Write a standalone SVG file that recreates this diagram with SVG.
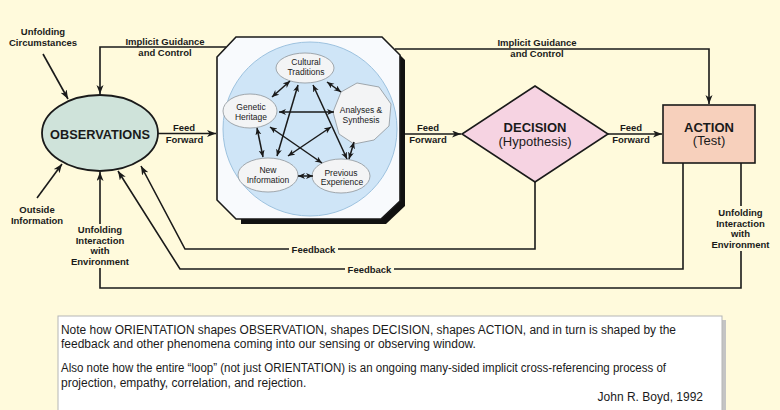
<svg xmlns="http://www.w3.org/2000/svg" width="780" height="410" viewBox="0 0 780 410">
<defs>
<style>
.bg{fill:#FFFADC}
.ln{fill:none;stroke:#1a1a1a;stroke-width:1.6}
.iln{fill:none;stroke:#1a1a1a;stroke-width:1.5}
.lbl{font-family:"Liberation Sans",Arial,sans-serif;font-size:9.5px;font-weight:bold;fill:#1a1a1a;text-anchor:middle}
.in{font-family:"Liberation Sans",Arial,sans-serif;font-size:8.5px;fill:#1a1a1a;text-anchor:middle}
.big{font-family:"Liberation Sans",Arial,sans-serif;font-size:13px;font-weight:bold;fill:#1a1a1a;text-anchor:middle}
.sub{font-family:"Liberation Sans",Arial,sans-serif;font-size:13px;fill:#1a1a1a;text-anchor:middle}
.note{font-family:"Liberation Sans",Arial,sans-serif;font-size:12px;fill:#1a1a1a}
.node{fill:#F3F4F5;stroke:#8E9499;stroke-width:0.8}
</style>
<marker id="ah" markerUnits="userSpaceOnUse" markerWidth="10" markerHeight="8" refX="9" refY="3.5" orient="auto">
<path d="M0,0 L9,3.5 L0,7 L2.5,3.5 z" fill="#1a1a1a"/>
</marker>
<marker id="ih" markerUnits="userSpaceOnUse" markerWidth="8" markerHeight="7" refX="7" refY="3" orient="auto-start-reverse">
<path d="M0,0 L7,3 L0,6 L2,3 z" fill="#1a1a1a"/>
</marker>
</defs>
<rect class="bg" x="0" y="0" width="780" height="410"/>

<g id="connectors">
<path class="ln" d="M226,47 H100 V94" marker-end="url(#ah)"/>
<path class="ln" d="M395,49 H709 V104" marker-end="url(#ah)"/>
<path class="ln" d="M43,54 L68,99" marker-end="url(#ah)"/>
<path class="ln" d="M37,198 L62,164" marker-end="url(#ah)"/>
<path class="ln" d="M158,133.5 H216" marker-end="url(#ah)"/>
<path class="ln" d="M404,134 H461" marker-end="url(#ah)"/>
<path class="ln" d="M608,134 H662" marker-end="url(#ah)"/>
<path class="ln" d="M535,182 V249 H185 L141,166" marker-end="url(#ah)"/>
<path class="ln" d="M683,163 V269 H180 L118,171" marker-end="url(#ah)"/>
<path class="ln" d="M741,163 V288 H100 V172" marker-end="url(#ah)"/>
<rect class="bg" x="289" y="244" width="49" height="11"/>
<rect class="bg" x="345" y="264" width="49" height="11"/>
<rect class="bg" x="712" y="206" width="58" height="45"/>
<rect class="bg" x="72" y="224" width="57" height="44"/>
</g>

<g id="labels">
<text class="lbl" x="43" y="35">Unfolding</text>
<text class="lbl" x="43" y="46">Circumstances</text>
<text class="lbl" x="165" y="44.5">Implicit Guidance</text>
<text class="lbl" x="165" y="56">and Control</text>
<text class="lbl" x="537" y="46">Implicit Guidance</text>
<text class="lbl" x="537" y="57">and Control</text>
<text class="lbl" x="184" y="131">Feed</text>
<text class="lbl" x="184.5" y="142.5">Forward</text>
<text class="lbl" x="428" y="131">Feed</text>
<text class="lbl" x="428" y="143">Forward</text>
<text class="lbl" x="631" y="131">Feed</text>
<text class="lbl" x="631" y="142.5">Forward</text>
<text class="lbl" x="37" y="213">Outside</text>
<text class="lbl" x="37" y="224">Information</text>
<text class="lbl" x="100" y="233">Unfolding</text>
<text class="lbl" x="100" y="243.5">Interaction</text>
<text class="lbl" x="100" y="254">with</text>
<text class="lbl" x="100" y="264.5">Environment</text>
<text class="lbl" x="740.5" y="216">Unfolding</text>
<text class="lbl" x="740.5" y="226.5">Interaction</text>
<text class="lbl" x="740.5" y="237">with</text>
<text class="lbl" x="740.5" y="247.5">Environment</text>
<text class="lbl" x="313.5" y="252.5">Feedback</text>
<text class="lbl" x="369.5" y="272.5">Feedback</text>
</g>

<g id="observations">
<ellipse cx="100" cy="133" rx="58" ry="38" fill="#CFE3DA" stroke="#1a1a1a" stroke-width="1.8"/>
<text class="big" x="100" y="139" textLength="100" lengthAdjust="spacingAndGlyphs">OBSERVATIONS</text>
</g>

<g id="orientation">
<polygon points="241,42 387,42 405,60 405,206 386,224 241,224" fill="#111"/>
<polygon points="236,37 382,37 400,55 400,201 381,219 236,219 217,200 217,57" fill="#F8FAFD" stroke="#1a1a1a" stroke-width="1.6"/>
<circle cx="310" cy="129" r="87" fill="#CFE5F7" stroke="#9DC2DF" stroke-width="1"/>
</g>

<g id="cultural-traditions">
<ellipse class="node" cx="305" cy="68" rx="29" ry="15"/>
<text class="in" x="306" y="65">Cultural</text>
<text class="in" x="306" y="74.5">Traditions</text>
</g>
<g id="genetic-heritage">
<ellipse class="node" cx="250" cy="111" rx="27" ry="17"/>
<text class="in" x="251" y="110">Genetic</text>
<text class="in" x="251" y="120">Heritage</text>
</g>
<g id="analyses-synthesis">
<polygon class="node" points="357,83 379,87 391,104 389,126 374,140 354,144 339,134 333,112 341,92"/>
<text class="in" x="361" y="113">Analyses &amp;</text>
<text class="in" x="361" y="122.5">Synthesis</text>
</g>
<g id="new-information">
<ellipse class="node" cx="268" cy="175" rx="30" ry="17"/>
<text class="in" x="268" y="173">New</text>
<text class="in" x="268" y="183">Information</text>
</g>
<g id="previous-experience">
<ellipse class="node" cx="341" cy="176" rx="29" ry="17"/>
<text class="in" x="341" y="175.5">Previous</text>
<text class="in" x="342" y="185">Experience</text>
</g>

<g id="inner-connectors">
<path class="iln" d="M290,81 L272,97" marker-start="url(#ih)" marker-end="url(#ih)"/>
<path class="iln" d="M327,82 L341,92" marker-start="url(#ih)" marker-end="url(#ih)"/>
<path class="iln" d="M279,112 L334,112" marker-start="url(#ih)" marker-end="url(#ih)"/>
<path class="iln" d="M270,127 L322,163" marker-start="url(#ih)" marker-end="url(#ih)"/>
<path class="iln" d="M331,127 L288,156" marker-start="url(#ih)" marker-end="url(#ih)"/>
<path class="iln" d="M298,85 L277,156" marker-start="url(#ih)" marker-end="url(#ih)"/>
<path class="iln" d="M313,85 L347,159" marker-start="url(#ih)" marker-end="url(#ih)"/>
<path class="iln" d="M257,128 L263,157" marker-start="url(#ih)" marker-end="url(#ih)"/>
<path class="iln" d="M354,142 L349,159" marker-start="url(#ih)" marker-end="url(#ih)"/>
<path class="iln" d="M298,176 L313,176" marker-start="url(#ih)" marker-end="url(#ih)"/>
</g>

<g id="decision">
<polygon points="535,86 608,134 535,182 462,134" fill="#F6D3E2" stroke="#1a1a1a" stroke-width="1.6"/>
<text class="big" x="535" y="131.5">DECISION</text>
<text class="sub" x="535" y="145.5">(Hypothesis)</text>
</g>

<g id="action">
<rect x="663" y="105" width="92" height="58" fill="#F7D0BC" stroke="#1a1a1a" stroke-width="1.6"/>
<text class="big" x="709" y="131.5">ACTION</text>
<text class="sub" x="709" y="145">(Test)</text>
</g>

<g id="note">
<rect x="62" y="320" width="664" height="100" fill="#C4C4C4"/>
<rect x="58" y="316" width="664" height="100" fill="#FFFFFF" stroke="#B5B5B5" stroke-width="1"/>
<text class="note" x="61" y="333.5" textLength="615" lengthAdjust="spacingAndGlyphs">Note how ORIENTATION shapes OBSERVATION, shapes DECISION, shapes ACTION, and in turn is shaped by the</text>
<text class="note" x="61" y="348">feedback and other phenomena coming into our sensing or observing window.</text>
<text class="note" x="61" y="372" textLength="605" lengthAdjust="spacingAndGlyphs">Also note how the entire “loop” (not just ORIENTATION) is an ongoing many-sided implicit cross-referencing process of</text>
<text class="note" x="61" y="386.5">projection, empathy, correlation, and rejection.</text>
<text class="note" x="703" y="401" text-anchor="end">John R. Boyd, 1992</text>
</g>
</svg>
